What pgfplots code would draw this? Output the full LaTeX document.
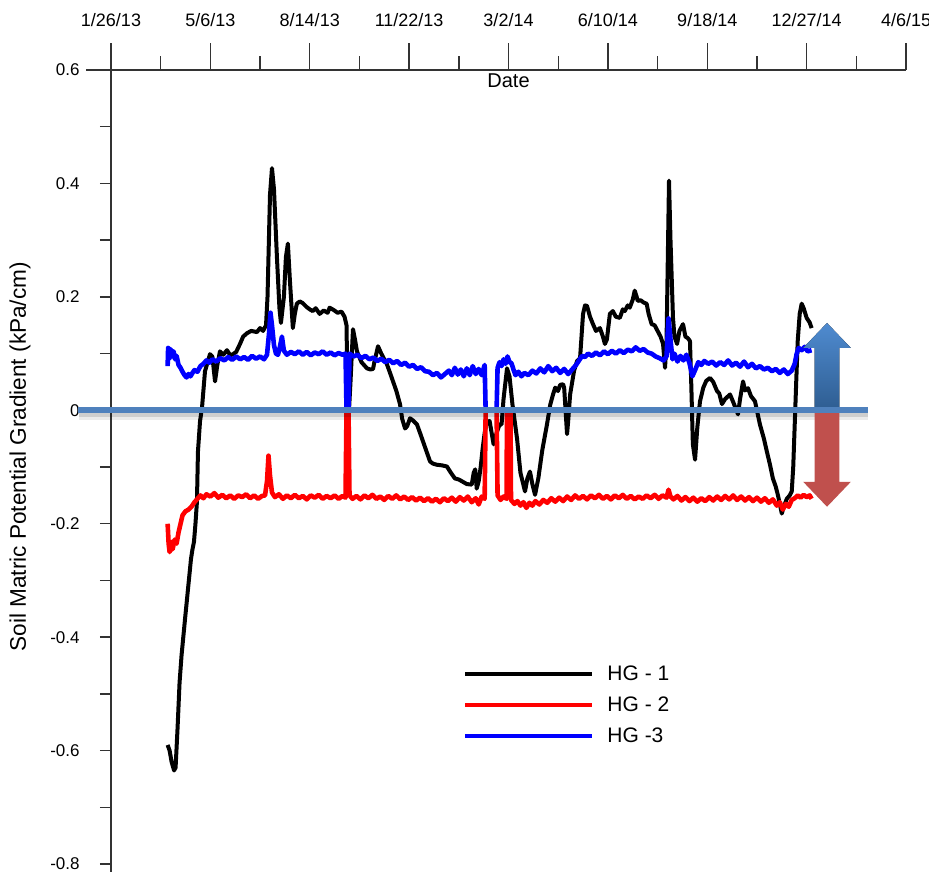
\documentclass[border=0pt]{standalone}
\usepackage{pgfplots}
\usepackage{pgfplotstable}
\pgfplotsset{compat=1.18}
\usepackage{fontspec}
\setmainfont{Liberation Sans}
\definecolor{zeroblue}{HTML}{4F81BD}
\definecolor{arrowred}{HTML}{C0504D}
\definecolor{arrowblueA}{HTML}{4F8BD0}
\definecolor{arrowblueB}{HTML}{2E5D91}
\definecolor{axgray}{HTML}{333333}

% HG-1 (x = days since 1/26/13)
\pgfplotstableread{
x y
57 -0.590
59 -0.600
61 -0.620
63.5 -0.635
65 -0.630
67 -0.560
69 -0.480
71 -0.432
74.5 -0.368
77.5 -0.315
80.5 -0.262
82 -0.245
83.5 -0.232
85 -0.200
86.5 -0.161
87.5 -0.073
89.6 -0.019
91.6 0.005
94.6 0.069
96.6 0.081
99.6 0.099
102 0.095
104.7 0.051
107 0.080
109.7 0.104
113 0.098
116.7 0.106
120 0.097
122.8 0.099
126 0.103
129.8 0.117
133 0.130
136.9 0.136
141 0.140
146.9 0.138
150 0.145
153 0.140
156 0.150
157.5 0.200
160 0.380
162 0.427
164 0.390
167 0.269
169.5 0.180
171 0.154
174 0.200
176 0.270
178 0.294
180 0.230
183 0.145
185 0.170
187 0.188
190 0.192
193 0.189
197 0.182
200 0.178
203 0.175
206 0.180
210 0.170
214 0.176
218 0.172
220 0.181
224 0.177
228 0.172
232 0.174
235 0.165
237 0.150
238 0.030
239.5 0.000
241 0.050
243.5 0.143
245.5 0.125
247.5 0.104
252 0.085
257.6 0.074
261 0.072
263.7 0.073
265 0.085
268.7 0.113
272 0.100
275 0.090
277.7 0.081
281 0.065
283.8 0.051
287 0.035
290.8 0.011
293 -0.015
295.9 -0.032
298 -0.028
300.9 -0.014
304 -0.018
307.9 -0.025
311 -0.040
314 -0.055
318 -0.075
321 -0.090
324 -0.094
328 -0.096
333 -0.097
338 -0.099
342 -0.110
346 -0.120
350 -0.122
354 -0.126
358 -0.130
363 -0.131
365 -0.110
366.5 -0.104
368 -0.138
370 -0.125
372 -0.100
374 -0.067
376 -0.040
378 -0.020
381 -0.019
385 -0.060
388 -0.040
391 -0.025
393 -0.025
395 0.020
398.5 0.074
401 0.060
404 0.010
408.6 -0.050
412 -0.110
416.6 -0.143
419 -0.120
421.6 -0.108
424 -0.130
426.7 -0.149
430 -0.120
434 -0.070
438.7 -0.025
442 0.010
444.8 0.028
447 0.040
449.8 0.034
452 0.045
454.9 0.046
456 0.040
458.9 -0.042
460 -0.020
462 0.028
466 0.070
469 0.087
472 0.092
475 0.170
477 0.185
479 0.184
482 0.165
485 0.152
488 0.140
492 0.145
495 0.130
497 0.117
499 0.125
502 0.170
505 0.175
508 0.165
512 0.163
515 0.178
517 0.175
520 0.185
522 0.181
525 0.195
527 0.211
529 0.200
530 0.193
533 0.194
536 0.190
539 0.188
541 0.170
544 0.152
547 0.150
550 0.140
553 0.130
555.5 0.117
557.5 0.075
559 0.120
561.5 0.405
563 0.300
565.5 0.163
567 0.130
569.6 0.117
572 0.140
575.6 0.152
578 0.130
580.6 0.127
582.6 0.122
584 0.040
585.5 -0.060
587.7 -0.087
590 -0.030
592.7 0.016
596 0.040
599 0.052
602.8 0.057
606 0.050
609.8 0.034
612 0.030
614.8 0.011
618 0.020
622.9 0.028
626 0.015
630.9 -0.007
633 0.020
636 0.051
638 0.035
641 0.039
644 0.025
648 0.016
653 -0.025
657 -0.050
660 -0.073
663 -0.095
666 -0.120
669 -0.135
671 -0.149
673 -0.165
675 -0.182
677 -0.170
680 -0.156
683 -0.150
685 -0.143
686.5 -0.100
688 -0.025
689.5 0.050
691 0.122
693 0.170
695 0.188
697 0.180
700 0.163
703 0.155
705 0.145
}\hgone

% HG-2
\pgfplotstableread{
x y
57 -0.200
58 -0.235
59 -0.250
61 -0.232
62 -0.245
64 -0.228
66 -0.235
68 -0.215
70 -0.200
72 -0.185
75 -0.178
78 -0.175
81 -0.170
84 -0.162
87 -0.156
90 -0.150
93 -0.155
96 -0.148
100 -0.152
104 -0.146
108 -0.154
112 -0.149
116 -0.155
120 -0.150
124 -0.156
128 -0.150
132 -0.153
136 -0.148
140 -0.155
144 -0.150
148 -0.156
152 -0.151
155 -0.150
157 -0.125
158.5 -0.080
160 -0.115
162 -0.145
165 -0.153
169 -0.148
173 -0.156
177 -0.150
181 -0.155
185 -0.149
189 -0.155
193 -0.151
197 -0.157
201 -0.150
205 -0.154
209 -0.149
213 -0.156
217 -0.151
221 -0.155
225 -0.150
229 -0.156
233 -0.151
236 -0.154
237 0.000
239 0.000
240 -0.150
243 -0.156
247 -0.151
251 -0.157
255 -0.150
259 -0.155
263 -0.149
267 -0.156
271 -0.152
275 -0.158
279 -0.151
283 -0.156
287 -0.150
291 -0.157
295 -0.152
299 -0.158
303 -0.153
307 -0.159
311 -0.154
315 -0.160
319 -0.155
323 -0.161
327 -0.156
331 -0.162
335 -0.155
339 -0.160
343 -0.154
347 -0.161
351 -0.153
355 -0.159
359 -0.152
363 -0.162
367 -0.155
370 -0.166
373 -0.152
376 -0.156
377 0.000
388 0.000
389 -0.150
392 -0.158
395 -0.152
398 -0.156
398.5 0.000
402 0.000
402.5 -0.158
406 -0.165
409 -0.160
412 -0.168
415 -0.162
418 -0.172
421 -0.163
424 -0.168
427 -0.160
431 -0.166
435 -0.158
439 -0.163
443 -0.155
447 -0.161
451 -0.154
455 -0.160
459 -0.152
463 -0.158
467 -0.150
471 -0.156
475 -0.151
479 -0.157
483 -0.150
487 -0.155
491 -0.149
495 -0.156
499 -0.151
503 -0.157
507 -0.150
511 -0.155
515 -0.149
519 -0.156
523 -0.151
527 -0.157
531 -0.152
535 -0.156
539 -0.150
543 -0.155
547 -0.149
551 -0.156
555 -0.150
559 -0.154
561 -0.140
563 -0.152
566 -0.157
570 -0.151
574 -0.159
578 -0.153
582 -0.160
586 -0.154
590 -0.161
594 -0.155
598 -0.160
602 -0.153
606 -0.159
610 -0.152
614 -0.158
618 -0.151
622 -0.157
626 -0.150
630 -0.158
634 -0.152
638 -0.159
642 -0.153
646 -0.160
650 -0.154
654 -0.161
658 -0.155
662 -0.163
666 -0.157
670 -0.168
673 -0.162
676 -0.175
679 -0.165
682 -0.170
685 -0.158
688 -0.155
691 -0.150
694 -0.154
697 -0.149
700 -0.153
703 -0.150
705 -0.156
}\hgtwo

% HG-3
\pgfplotstableread{
x y
57 0.078
57.5 0.110
59 0.092
60 0.108
61.5 0.095
63 0.104
64.5 0.090
66 0.096
68 0.080
70 0.075
72 0.068
74 0.062
76 0.058
78 0.064
80 0.060
82 0.066
84 0.071
87 0.068
90 0.078
93 0.082
96 0.088
99 0.084
102 0.090
106 0.086
110 0.092
114 0.088
118 0.094
122 0.089
126 0.095
130 0.090
134 0.094
138 0.089
142 0.096
146 0.091
150 0.095
154 0.090
157 0.098
159 0.135
160.5 0.172
162 0.150
164 0.115
166 0.100
168 0.098
170 0.112
172 0.130
174 0.105
177 0.098
181 0.103
185 0.099
189 0.104
193 0.098
197 0.103
201 0.097
205 0.102
209 0.099
213 0.104
217 0.098
221 0.102
225 0.097
229 0.101
233 0.098
236 0.100
237 0.000
239 0.000
240 0.100
244 0.095
248 0.098
252 0.092
256 0.096
260 0.090
264 0.093
268 0.087
272 0.091
276 0.085
280 0.089
284 0.083
288 0.087
292 0.080
296 0.084
300 0.077
304 0.080
308 0.073
312 0.076
316 0.069
320 0.068
324 0.062
328 0.066
332 0.058
336 0.064
340 0.070
343 0.062
346 0.075
349 0.063
352 0.072
355 0.060
358 0.074
361 0.062
364 0.078
367 0.064
370 0.073
373 0.062
376 0.080
377 0.000
388 0.000
389 0.075
391 0.085
393 0.078
395 0.090
397 0.082
399 0.095
401 0.085
403 0.083
405 0.072
407 0.062
410 0.068
413 0.060
416 0.066
420 0.062
424 0.070
428 0.065
432 0.074
436 0.067
440 0.078
444 0.069
448 0.075
452 0.066
456 0.073
460 0.064
464 0.072
468 0.080
471 0.088
474 0.096
477 0.094
480 0.100
484 0.096
488 0.102
492 0.097
496 0.104
500 0.099
504 0.105
508 0.100
512 0.106
516 0.101
520 0.107
524 0.104
528 0.111
532 0.105
536 0.108
540 0.102
544 0.100
548 0.095
552 0.092
556 0.088
559 0.095
561 0.162
563 0.125
565 0.090
567 0.100
570 0.086
573 0.096
576 0.088
579 0.098
582 0.084
585 0.060
588 0.072
591 0.085
594 0.080
597 0.087
601 0.082
605 0.086
609 0.079
613 0.085
617 0.080
621 0.088
625 0.079
629 0.084
633 0.077
637 0.086
641 0.076
645 0.082
649 0.074
653 0.078
657 0.072
661 0.075
665 0.069
669 0.073
673 0.066
677 0.072
681 0.064
685 0.070
688 0.082
690 0.100
692 0.110
695 0.106
698 0.112
701 0.104
705 0.106
}\hgthree

\begin{document}
\begin{tikzpicture}
% ---------- x axis (dates, on top) ----------
\begin{axis}[
  scale only axis, width=397.5pt, height=397pt,
  xmin=0, xmax=800, ymin=-0.8, ymax=0.6,
  axis x line*=top, axis y line=none,
  axis line style={axgray, line width=1.1pt},
  xtick={0,100,200,300,400,500,600,700,800},
  xticklabels={1/26/13,5/6/13,8/14/13,11/22/13,3/2/14,6/10/14,9/18/14,12/27/14,4/6/15},
  minor xtick={50,150,250,350,450,550,650,750},
  tick align=outside,
  major tick length=13.5pt, minor tick length=7pt,
  tick style={axgray, line width=0.7pt},
  xticklabel style={font=\fontsize{9}{10}\selectfont, anchor=south, inner sep=0pt, yshift=8pt},
]
\node[font=\fontsize{10}{12}\selectfont] at (rel axis cs:0.5,0.9861) {Date};
\end{axis}
% ---------- main axis ----------
\begin{axis}[
  scale only axis, width=397.5pt, height=397pt,
  xmin=0, xmax=800, ymin=-0.8, ymax=0.6,
  axis x line=none, axis y line*=left, xtick=\empty,
  axis line style={axgray, line width=1pt},
  clip=false,
  ytick={-0.8,-0.6,-0.4,-0.2,0,0.2,0.4,0.6},
  minor ytick={-0.7,-0.5,-0.3,-0.1,0.1,0.3,0.5},
  tick align=outside,
  major tick length=5.5pt, minor tick length=5.5pt,
  tick style={axgray, line width=0.7pt},
  /pgf/number format/assume math mode=true,
  /pgf/number format/fixed,
  yticklabel style={font=\fontsize{8.5}{10}\selectfont, anchor=east, inner sep=0pt, xshift=-10pt},
  ylabel={Soil Matric Potential Gradient (kPa/cm)},
  every axis y label/.style={at={(rel axis cs:-0.1145,0.513)}, rotate=90, anchor=center, font=\fontsize{11.3}{13}\selectfont},
  legend style={at={(rel axis cs:0.4428,0.2003)}, anchor=west, draw=none, fill=none,
    font=\fontsize{10.5}{12}\selectfont, inner sep=0pt, row sep=5.5pt, column sep=6.5pt,
    nodes={inner sep=0pt, text height=8pt, text depth=2pt}},
  legend cell align=left,
  legend image code/.code={\draw[#1, line width=2pt] (0pt,0pt) -- (63.5pt,0pt);},
]
\addplot[black, line width=2pt, line join=round] table[x=x,y=y]{\hgone};
\addplot[red, line width=2.3pt, line join=round] table[x=x,y=y]{\hgtwo};
\addplot[blue, line width=2.3pt, line join=round] table[x=x,y=y]{\hgthree};
\legend{HG - 1, HG - 2, HG -3}
% zero line with soft shadow
\addplot[black, opacity=0.08, line width=5pt, forget plot] coordinates {(-32,-0.008) (762,-0.008)};
\addplot[black, opacity=0.12, line width=3.5pt, forget plot] coordinates {(-32,-0.005) (762,-0.005)};
\addplot[zeroblue, line width=3pt, forget plot] coordinates {(-33,0) (762,0)};
% double arrow
\fill[top color=arrowblueA, bottom color=arrowblueB]
  (axis cs:708,0) -- (axis cs:708,0.110) -- (axis cs:696.5,0.110) -- (axis cs:720.5,0.154)
  -- (axis cs:744.5,0.110) -- (axis cs:733,0.110) -- (axis cs:733,0) -- cycle;
\fill[arrowred]
  (axis cs:708,-0.004) -- (axis cs:708,-0.126) -- (axis cs:696.5,-0.126) -- (axis cs:720.5,-0.170)
  -- (axis cs:744.5,-0.126) -- (axis cs:733,-0.126) -- (axis cs:733,-0.004) -- cycle;
\addplot[zeroblue, line width=3pt, forget plot] coordinates {(700,0) (745,0)};
% axis extensions
\draw[axgray, line width=1pt] (rel axis cs:0,0) -- (rel axis cs:0,-0.03);
\draw[axgray, line width=1.1pt] (rel axis cs:-0.0314,1) -- (rel axis cs:0,1);
\coordinate (bbl) at (rel axis cs:-0.1396,-0.0088);
\coordinate (btr) at (rel axis cs:1.0289,1.0882);
\end{axis}
\pgfresetboundingbox
\useasboundingbox (bbl) rectangle (btr);
\end{tikzpicture}
\end{document}
